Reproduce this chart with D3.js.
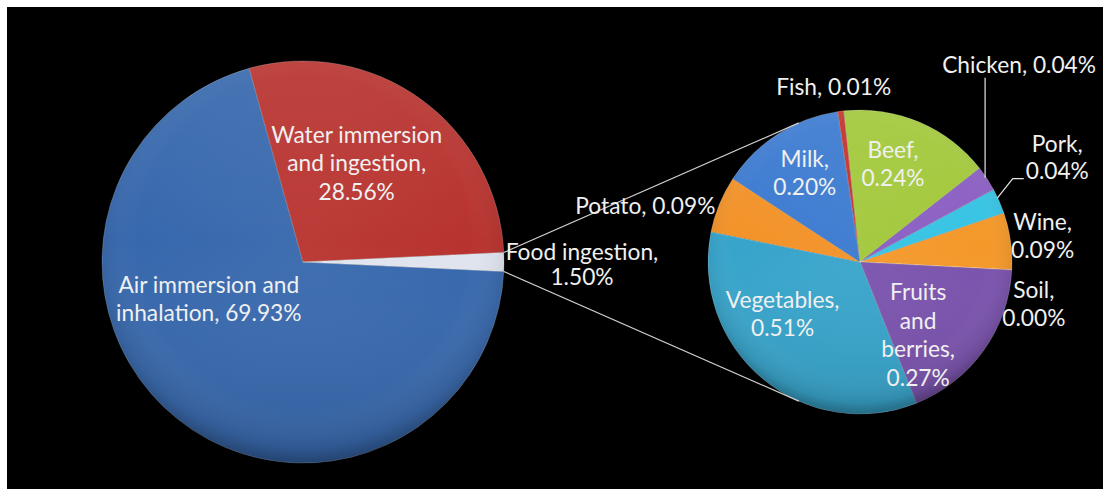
<!DOCTYPE html>
<html><head><meta charset="utf-8">
<script src="https://cdn.jsdelivr.net/npm/d3@7"></script>
<style>html,body{margin:0;padding:0;background:#fff;overflow:hidden} svg{display:block}</style>
</head><body><svg id="chart" width="1103" height="489"></svg>
<script>
// ---------- data ----------
const mainCategories = ["Air immersion and inhalation", "Water immersion and ingestion", "Food ingestion"];
const mainValues = [69.93, 28.56, 1.50];
const mainLabelLines = [["Air immersion and", "inhalation, 69.93%"], ["Water immersion", "and ingestion,", "28.56%"], ["Food ingestion,", "1.50%"]];

const foodCategories = ["Fish", "Beef", "Chicken", "Pork", "Wine", "Soil", "Fruits and berries", "Vegetables", "Potato", "Milk"];
const foodValues = [0.01, 0.24, 0.04, 0.04, 0.09, 0.00, 0.27, 0.51, 0.09, 0.20];
const foodLabelLines = [["Fish, 0.01%"], ["Beef,", "0.24%"], ["Chicken, 0.04%"], ["Pork,", "0.04%"], ["Wine,", "0.09%"], ["Soil,", "0.00%"], ["Fruits", "and", "berries,", "0.27%"], ["Vegetables,", "0.51%"], ["Potato, 0.09%"], ["Milk,", "0.20%"]];

// ---------- styles / layout ----------
const mainColors = ["#3768ad", "#b8332f", "#dfe4ee"];
const foodColors = ["#c4302b", "#a2c83a", "#8a5ec2", "#36c3e4", "#f4982a", "#4f81bd", "#7a52ad", "#37a4cb", "#f39228", "#3b7ad0"];
const W = 1103, H = 489;
const C1 = {x: 303, y: 262, r: 201};
const C2 = {x: 860, y: 262, r: 152};
const secondStartDeg = -8.5;
// label placement: anchor at radius k*r along slice mid angle, then nudge
const mainLabelLayout = [{k: 0.6, dx: -19, dy: -57, s: 28.5}, {k: 0.6, dx: -17, dy: -1, s: 28.5}, {k: 1.0, dx: 78, dy: 3, s: 25}];
const foodLabelLayout = [
  {k: 1, dx: -7, dy: -24, s: 28.5},
  {k: 0.6, dx: -2.5, dy: -14, s: 28.5},
  {k: 1, dx: 32, dy: -114, s: 28.5, leader: "vertical"},
  {k: 1, dx: 58, dy: -44, s: 27, leader: "elbow"},
  {k: 1, dx: 32, dy: -5, s: 28.5},
  {k: 1, dx: 22, dy: 34, s: 28.5},
  {k: 0.6, dx: -16, dy: 20, s: 28.7},
  {k: 0.6, dx: -19, dy: -18, s: 27.5},
  {k: 1, dx: -74, dy: 2, s: 28.5},
  {k: 0.6, dx: -6, dy: -12, s: 28.5}
];
const fontFamily = "Lato, 'Open Sans', sans-serif";
const textColor = "#f0f0f0";

const svg = d3.select("#chart");
svg.append("rect").attr("x", 7).attr("y", 7).attr("width", W - 7).attr("height", H - 7).attr("fill", "#000");

// fit font size so "Water immersion" matches reference width (~171px)
const probe = svg.append("text").attr("font-family", fontFamily).attr("font-size", 100).text("Water immersion");
const fs = 100 * 171 / probe.node().getComputedTextLength();
probe.remove();

const defs = svg.append("defs");
const shade = defs.append("radialGradient").attr("id", "shade").attr("cx", "50%").attr("cy", "45%").attr("r", "55%");
shade.append("stop").attr("offset", "0%").attr("stop-color", "#fff").attr("stop-opacity", 0.04);
shade.append("stop").attr("offset", "75%").attr("stop-color", "#fff").attr("stop-opacity", 0.0);
shade.append("stop").attr("offset", "93%").attr("stop-color", "#000").attr("stop-opacity", 0.08);
shade.append("stop").attr("offset", "100%").attr("stop-color", "#000").attr("stop-opacity", 0.28);
const light = defs.append("linearGradient").attr("id", "light").attr("x1", 0).attr("y1", 0).attr("x2", 0).attr("y2", 1);
light.append("stop").attr("offset", "0%").attr("stop-color", "#fff").attr("stop-opacity", 0.08);
light.append("stop").attr("offset", "45%").attr("stop-color", "#fff").attr("stop-opacity", 0.0);
light.append("stop").attr("offset", "100%").attr("stop-color", "#000").attr("stop-opacity", 0.10);

const deg = Math.PI / 180;
const mainTotal = d3.sum(mainValues);
const foodIdx = 2;
// arrange so that food slice is centred at 90deg (3 o'clock)
const mainStart = Math.PI / 2 - Math.PI * mainValues[foodIdx] / mainTotal - 2 * Math.PI * d3.sum(mainValues.slice(0, foodIdx)) / mainTotal;
const mainPie = d3.pie().sort(null).value(d => d).startAngle(mainStart).endAngle(mainStart + 2 * Math.PI)(mainValues);
const s2 = secondStartDeg * deg;
const foodPie = d3.pie().sort(null).value(d => d).startAngle(s2).endAngle(s2 + 2 * Math.PI)(foodValues);

function drawPie(c, arcs, colors) {
  const g = svg.append("g").attr("transform", `translate(${c.x},${c.y})`);
  const arc = d3.arc().innerRadius(0).outerRadius(c.r);
  g.selectAll("path.slice").data(arcs).join("path").attr("class", "slice")
    .attr("d", arc).attr("fill", (d, i) => colors[i])
    .attr("stroke", "rgba(255,255,255,0.25)").attr("stroke-width", 0.8).attr("stroke-linejoin", "round");
  g.append("circle").attr("r", c.r).attr("fill", "url(#shade)");
  g.append("circle").attr("r", c.r).attr("fill", "url(#light)");
  return g;
}
drawPie(C1, mainPie, mainColors);
drawPie(C2, foodPie, foodColors);

function polar(c, ang, rr) { return [c.x + rr * Math.sin(ang), c.y - rr * Math.cos(ang)]; }

// connector lines (tangent from food slice edge to second pie)
const food = mainPie[foodIdx];
function tangent(P, c, upper) {
  const dx = P[0] - c.x, dy = P[1] - c.y, d = Math.hypot(dx, dy);
  const phi = Math.atan2(dy, dx), al = Math.acos(c.r / d);
  const t1 = [c.x + c.r * Math.cos(phi + al), c.y + c.r * Math.sin(phi + al)];
  const t2 = [c.x + c.r * Math.cos(phi - al), c.y + c.r * Math.sin(phi - al)];
  return upper ? (t1[1] < t2[1] ? t1 : t2) : (t1[1] > t2[1] ? t1 : t2);
}
const pU = polar(C1, food.startAngle, C1.r), pL = polar(C1, food.endAngle, C1.r);
[[pU, tangent(pU, C2, true)], [pL, tangent(pL, C2, false)]].forEach(([a, b]) => {
  svg.append("line").attr("x1", a[0]).attr("y1", a[1]).attr("x2", b[0]).attr("y2", b[1])
    .attr("stroke", "#d0d0d0").attr("stroke-width", 1.2);
});

function drawLabel(c, d, lines, lay) {
  const mid = (d.startAngle + d.endAngle) / 2;
  const anc = polar(c, mid, c.r * lay.k);
  const cx = anc[0] + lay.dx, cy = anc[1] + lay.dy;
  const n = lines.length;
  const t = svg.append("text").attr("font-family", fontFamily).attr("font-size", fs)
    .attr("fill", textColor).attr("text-anchor", "middle");
  lines.forEach((ln, i) => {
    t.append("tspan").attr("x", cx).attr("y", cy + (i - (n - 1) / 2) * lay.s + 0.35 * fs).text(ln);
  });
  if (lay.leader === "vertical") {
    const edge = polar(c, mid, c.r);
    svg.append("line").attr("x1", edge[0] - 2).attr("y1", edge[1] - 1).attr("x2", edge[0] - 2).attr("y2", cy + 13)
      .attr("stroke", "#e6e6e6").attr("stroke-width", 1.2);
  } else if (lay.leader === "elbow") {
    const edge = polar(c, mid, c.r);
    const tmp = svg.append("text").attr("font-family", fontFamily).attr("font-size", fs).text(lines[n - 1]);
    const w = tmp.node().getComputedTextLength(); tmp.remove();
    const ex = cx - w / 2 - 2, ey = cy + (n - 1) / 2 * lay.s + 8;
    svg.append("polyline").attr("points", [[edge[0] - 2, edge[1] - 3], [ex - 11, ey], [ex, ey]].map(p => p.join(",")).join(" "))
      .attr("fill", "none").attr("stroke", "#e6e6e6").attr("stroke-width", 1.2);
  }
}
mainPie.forEach((d, i) => drawLabel(C1, d, mainLabelLines[i], mainLabelLayout[i]));
foodPie.forEach((d, i) => drawLabel(C2, d, foodLabelLines[i], foodLabelLayout[i]));
</script>
</body></html>
